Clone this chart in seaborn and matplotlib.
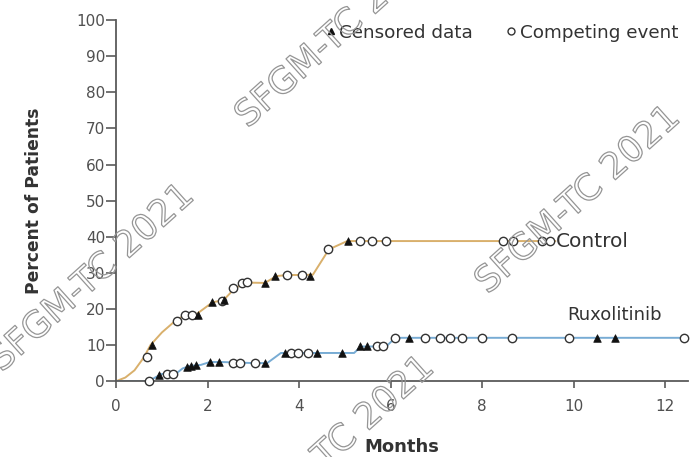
import pandas as pd
import seaborn as sns
import matplotlib.pyplot as plt
import matplotlib.patheffects as pe
from matplotlib.lines import Line2D

# cumulative incidence curves (months, percent of patients)
ctrl_x = [0, 0.2, 0.4, 0.6, 0.75, 1.0, 1.3, 1.5, 1.75, 2.1, 2.35, 2.6, 2.85, 3.25, 3.5, 3.75, 4.1, 4.3, 4.65, 5.05, 9.6]
ctrl_y = [0, 1, 3, 6.5, 10, 13.5, 16.8, 18.3, 18.5, 21.8, 22.5, 25.8, 27.3, 27.2, 29.1, 29.4, 29.4, 29.5, 36.5, 38.8, 38.8]
rux_x = [0, 0.72, 0.85, 1.0, 1.3, 1.45, 1.6, 1.85, 2.05, 2.3, 3.0, 3.3, 3.6, 4.4, 5.2, 5.35, 5.9, 6.1, 12.45]
rux_y = [0, 0, 1, 2, 2, 3.5, 4.2, 4.5, 5.3, 5.3, 5.0, 5.0, 7.8, 7.8, 7.8, 9.6, 9.6, 12, 12]

# censored data (filled) and competing events (open)
ctrl_cens_x = [0.78, 1.78, 2.09, 2.35, 3.26, 3.48, 4.24, 5.07]
ctrl_cens_y = [10, 18.4, 21.8, 22.5, 27.2, 29.1, 29.2, 38.8]
ctrl_comp_x = [0.67, 1.33, 1.51, 1.65, 2.31, 2.56, 2.75, 2.85, 3.73, 4.06, 4.64, 5.33, 5.59, 5.9, 8.46, 8.68, 9.3, 9.49]
ctrl_comp_y = [6.7, 16.7, 18.3, 18.3, 22.3, 25.7, 27.3, 27.4, 29.4, 29.4, 36.5, 38.8, 38.8, 38.8, 38.8, 38.8, 38.8, 38.8]
rux_cens_x = [0.93, 1.55, 1.64, 1.75, 2.05, 2.24, 3.25, 3.69, 4.39, 4.93, 5.33, 5.48, 6.4, 10.5, 10.9]
rux_cens_y = [1.7, 4.0, 4.2, 4.4, 5.3, 5.3, 5.0, 7.8, 7.8, 7.8, 9.6, 9.6, 12, 12, 12]
rux_comp_x = [0.72, 1.1, 1.25, 2.56, 2.7, 3.03, 3.83, 3.97, 4.2, 5.7, 5.84, 6.1, 6.75, 7.08, 7.3, 7.55, 8.0, 8.66, 9.9, 12.4]
rux_comp_y = [0, 2, 2, 5, 5, 5, 7.8, 7.8, 7.8, 9.6, 9.6, 12, 12, 12, 12, 12, 12, 12, 12, 12]

y_ticks = list(range(0, 101, 10))
x_ticks = list(range(0, 13, 2))

CTRL_COLOR = '#d9b06c'
RUX_COLOR = '#78acd4'

sns.set_style("ticks")
plt.rcParams['font.family'] = ['DejaVu Sans']

fig = plt.figure(figsize=(7, 4.57), dpi=100)
ax = fig.add_axes([0.166, 0.166, 0.817, 0.79])

#curves
sns.lineplot(x=ctrl_x, y=ctrl_y, sort=False, color=CTRL_COLOR, lw=1.4, ax=ax)
sns.lineplot(x=rux_x, y=rux_y, sort=False, color=RUX_COLOR, lw=1.4, ax=ax)

#markers
for cx, cy in [(ctrl_comp_x, ctrl_comp_y), (rux_comp_x, rux_comp_y)]:
    sns.scatterplot(x=cx, y=cy, marker='o', s=36, facecolor='white',
                    edgecolor='#333333', linewidth=1.0, ax=ax, clip_on=False, zorder=3)
for cx, cy in [(ctrl_cens_x, ctrl_cens_y), (rux_cens_x, rux_cens_y)]:
    sns.scatterplot(x=cx, y=cy, marker='^', s=30, color='#111111',
                    edgecolor='#111111', linewidth=0.5, ax=ax, clip_on=False, zorder=4)

ax.text(9.62, 38.8, 'Control', fontsize=14.5, color='#333333', va='center', ha='left')
ax.text(9.86, 18.3, 'Ruxolitinib', fontsize=13, color='#333333', va='center', ha='left')

handles = [Line2D([], [], ls='none', marker='^', ms=4, color='#111111'),
           Line2D([], [], ls='none', marker='o', ms=5, mfc='white', mec='#333333', mew=1)]
leg = ax.legend(handles, ['Censored data', 'Competing event'], ncol=2, frameon=False,
                loc='upper right', bbox_to_anchor=(1.005, 1.025), fontsize=13.2,
                handlelength=0.6, handletextpad=0.15, columnspacing=1.8,
                borderaxespad=0.3)
for t in leg.get_texts():
    t.set_color('#333333')

#axes styling
ax.set_xlim(0, 12.5)
ax.set_ylim(0, 100)
ax.set_xticks(x_ticks)
ax.set_yticks(y_ticks)
sns.despine(ax=ax)
for side in ['left', 'bottom']:
    ax.spines[side].set_color('#5a5a5a')
    ax.spines[side].set_linewidth(1.3)
ax.tick_params(axis='y', length=7, width=1.2, color='#5a5a5a', pad=1, labelsize=11, labelcolor='#505050')
ax.tick_params(axis='x', length=5, width=1.2, color='#5a5a5a', pad=8, labelsize=11, labelcolor='#505050')
ax.set_ylabel('Percent of Patients', fontsize=12.3, fontweight='bold', color='#333333')
ax.set_xlabel('Months', fontsize=13, fontweight='bold', color='#333333')
ax.yaxis.set_label_coords(-0.128, 0.5)
ax.xaxis.set_label_coords(0.5, -0.158)

#watermark
for px, py in [(92, 278), (338, 34), (578, 200), (332, 450)]:
    fig.text(px / 700, 1 - py / 457, 'SFGM-TC 2021', fontsize=26, rotation=42,
             ha='center', va='center', rotation_mode='anchor', color='none',
             path_effects=[pe.withStroke(linewidth=0.9, foreground='#959595')], zorder=10)

fig.savefig('out.png', dpi=100)
